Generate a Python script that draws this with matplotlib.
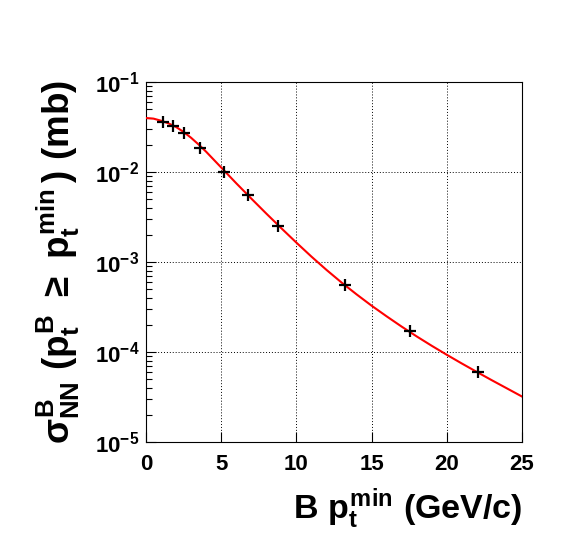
import matplotlib
matplotlib.use('Agg')
import matplotlib.pyplot as plt
from matplotlib.ticker import FixedLocator, LogLocator, NullFormatter, NullLocator

plt.rcParams['font.family'] = ['Liberation Sans', 'DejaVu Sans']
plt.rcParams['font.weight'] = 'bold'
plt.rcParams['mathtext.fontset'] = 'custom'
plt.rcParams['mathtext.rm'] = 'Liberation Sans:bold'
plt.rcParams['mathtext.it'] = 'Liberation Sans:bold'
plt.rcParams['mathtext.bf'] = 'Liberation Sans:bold'
plt.rcParams['mathtext.sf'] = 'Liberation Sans:bold'

# fitted curve
curve_pt = [0, 0.5, 1, 1.5, 2, 2.5, 3, 3.5, 4, 5, 6, 7, 8, 9, 10, 11, 12, 13,
            14, 15, 16, 17, 18, 19, 20, 21, 22, 23, 24, 25]
curve_sigma = [0.03981, 0.03917, 0.03715, 0.03467, 0.03162, 0.02786, 0.02399,
               0.02018, 0.01679, 0.01122, 0.007499, 0.005070, 0.003451,
               0.002371, 0.001641, 0.001148, 0.000817, 0.000592, 0.000437,
               0.000327, 0.000249, 0.0001914, 0.0001489, 0.0001172, 9.31e-5,
               7.45e-5, 6.00e-5, 4.85e-5, 3.94e-5, 3.20e-5]

# data points
pt_min = [1.15, 1.8, 2.55, 3.6, 5.2, 6.8, 8.75, 13.25, 17.55, 22.1]
sigma = [0.0356, 0.0327, 0.0269, 0.0186, 0.01007, 0.00555, 0.00251,
         0.000555, 0.000171, 6.04e-5]

xticks = [0, 5, 10, 15, 20, 25]
yticks = [1e-5, 1e-4, 1e-3, 1e-2, 1e-1]
ylabels = [r'$10^{-5}$', r'$10^{-4}$', r'$10^{-3}$', r'$10^{-2}$', r'$10^{-1}$']

fig = plt.figure(figsize=(5.81, 5.53), dpi=100)
ax = fig.add_axes([146 / 581, 1 - 442 / 553, 376 / 581, 360 / 553])

ax.plot(curve_pt, curve_sigma, color='red', lw=1.5, zorder=3)
ax.plot(pt_min, sigma, linestyle='none', marker='+', color='black',
        markersize=9, markeredgewidth=1.6, zorder=4)

ax.set_yscale('log')
ax.set_xlim(0, 25)
ax.set_ylim(1e-5, 1e-1)

ax.xaxis.set_major_locator(FixedLocator(xticks))
ax.xaxis.set_minor_locator(NullLocator())
ax.set_xticklabels([str(v) for v in xticks])
ax.yaxis.set_major_locator(FixedLocator(yticks))
ax.set_yticklabels(ylabels)
ax.yaxis.set_minor_locator(LogLocator(base=10, subs=range(2, 10), numticks=20))
ax.yaxis.set_minor_formatter(NullFormatter())

ax.tick_params(axis='both', which='both', direction='in', top=False, right=False)
ax.tick_params(axis='x', which='major', length=7.2, width=0.8, labelsize=16, pad=9)
ax.tick_params(axis='y', which='major', length=7.2, width=0.8, labelsize=16, pad=5)
ax.tick_params(axis='y', which='minor', length=4.3, width=0.8)

ax.grid(True, which='major', color='black', linestyle=(0, (1, 2)), lw=0.7)
for s in ax.spines.values():
    s.set_linewidth(0.8)

ax.set_xlabel(r'$B\ p^{min}_{t}\ (GeV/c)$', fontsize=24.5, loc='right', labelpad=8)
ax.set_ylabel(r'$\sigma^{B}_{NN}\ (p^{B}_{t}\ \geq\ p^{min}_{t}\,)\ (mb)$', fontsize=26.5,
              labelpad=9)

fig.savefig('out.png', dpi=100)
